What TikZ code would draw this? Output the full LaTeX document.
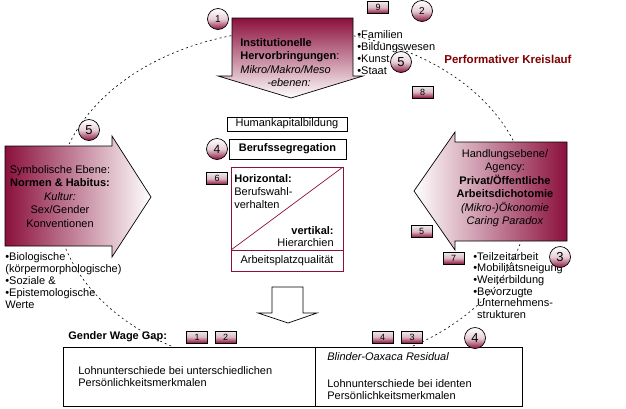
\documentclass[tikz,border=0pt]{standalone}
\usepackage{fontspec}
\setmainfont{Liberation Sans}
\usetikzlibrary{positioning}
\definecolor{wine}{RGB}{139,16,60}
\definecolor{kreisrot}{RGB}{128,0,0}

\begin{document}
\begin{tikzpicture}[x=1pt, y=-1pt, line width=0.7pt,
    font=\fontsize{11}{12}\selectfont,
    nummer/.style={circle, draw, minimum size=21, inner sep=0, top color=white, bottom color=wine, middle color=wine!20!white, font=\fontsize{13}{13}\selectfont},
    marke/.style={rectangle, draw, minimum width=21, minimum height=12, inner sep=0, top color=gray!15, bottom color=wine, middle color=wine!30!white, font=\fontsize{9}{9}\selectfont},
    liste/.style={anchor=north west, inner sep=0, align=left},
    pfeiltext/.style={inner sep=0, align=center, font=\fontsize{11}{13.5}\selectfont},
    kasten/.style={draw, inner sep=0, outer sep=0}]
  \useasboundingbox (0,0) rectangle (626,408);

  % Kreislauf
  \draw[line width=0.6pt, dash pattern=on 2pt off 3pt] (292,200) ellipse [x radius=236, y radius=170];

  % Ebenen
  \draw[top color=wine, bottom color=white] (232,18) -- (353,18) -- (353,76) -- (363,76)
        -- (291,98) -- (218,76) -- (232,76) -- cycle;
  \draw[left color=wine, right color=white] (5,146) -- (112,146) -- (112,136) -- (151,197)
        -- (112,257) -- (112,246) -- (5,246) -- cycle;
  \draw[left color=white, right color=wine] (567,142) -- (455,142) -- (455,132) -- (414,191)
        -- (455,250) -- (455,241) -- (567,241) -- cycle;
  \draw[fill=white] (272,287) -- (303,287) -- (303,313) -- (317,313) -- (288,323)
        -- (258,313) -- (272,313) -- cycle;

  \node[liste, font=\fontsize{11}{13.5}\selectfont] (inst) at (240,38)
       {\textbf{Institutionelle}\\\textbf{Hervorbringungen}:\\\textit{Mikro/Makro/Meso}\\\hspace*{27pt}\textit{-ebenen:}};
  \node[pfeiltext, anchor=north] (symb) at (60,165)
       {Symbolische Ebene:\\\textbf{Normen \& Habitus:}\\\textit{Kultur:}\\Sex/Gender\\Konventionen};
  \node[pfeiltext, anchor=north] (hand) at (505,149)
       {Handlungsebene/\\Agency:\\\textbf{Privat/Öffentliche}\\\textbf{Arbeitsdichotomie}\\\textit{(Mikro-)Ökonomie}\\\textit{Caring Paradox}};

  \node[liste] (inst-l) at (357,30) {•Familien\\•Bildungswesen\\•Kunst\\•Staat};
  \node[liste] (symb-l) at (5,252) {•Biologische\\(körpermorphologische)\\•Soziale \&\\•Epistemologische\\Werte};
  \node[liste, font=\fontsize{11}{11.6}\selectfont] (hand-l) at (473,252)
       {•Teilzeitarbeit\\•Mobilitätsneigung\\•Weiterbildung\\•Bevorzugte\\\phantom{•}Unternehmens-\\\phantom{•}strukturen};
  \node[anchor=west, inner sep=0, text=kreisrot, font=\fontsize{11.5}{12}\bfseries] (kreis) at (444,59) {Performativer Kreislauf};

  % Mitte
  \node[kasten, minimum width=120, minimum height=14] (hum) at (287,124) {Humankapitalbildung};
  \node[kasten, minimum width=117, minimum height=20, line width=1pt, font=\fontsize{11}{12}\bfseries] (seg) at (287.5,149) {Berufssegregation};
  \node[kasten, draw=wine, minimum width=112, minimum height=83] (hv) at (287,208.5) {};
  \draw[wine] (hv.south west) -- (hv.north east);
  \node[kasten, draw=wine, minimum width=112, minimum height=21, below=0pt of hv] (qual) {Arbeitsplatzqualität};
  \node[liste, font=\fontsize{11}{13}\selectfont] (hor) at (234,174) {\textbf{Horizontal:}\\Berufswahl-\\verhalten};
  \node[liste, anchor=north east, align=right, font=\fontsize{11}{12.5}\selectfont] (ver) at (334,226) {\textbf{vertikal:}\\Hierarchien};

  % Gender Wage Gap
  \node[anchor=west, inner sep=0, font=\fontsize{11}{12}\bfseries] (gap) at (68,337) {Gender Wage Gap:};
  \node[kasten, fill=white, minimum width=252, minimum height=59] (erkl) at (189,376.5) {};
  \node[kasten, fill=white, minimum width=207, minimum height=59] (resid) at (418.5,376.5) {};
  \node[liste] (erkl-t) at (78,366) {Lohnunterschiede bei unterschiedlichen\\Persönlichkeitsmerkmalen};
  \node[anchor=west, inner sep=0] (bo) at (327,357) {\textit{Blinder-Oaxaca Residual}};
  \node[liste] (resid-t) at (327,379) {Lohnunterschiede bei identen\\Persönlichkeitsmerkmalen};

  % Nummern
  \node[nummer, font=\fontsize{10}{10}\selectfont] (n1) at (218,19) {1};
  \node[nummer, font=\fontsize{10}{10}\selectfont] (n2) at (422,11) {2};
  \node[nummer] (n5o) at (401,62) {5};
  \node[nummer] (n5l) at (89,130) {5};
  \node[nummer, font=\fontsize{12}{12}\selectfont] (n4m) at (217,149) {4};
  \node[nummer] (n3) at (560,257) {3};
  \node[nummer] (n4u) at (475,338) {4};

  \node[marke] (m9) at (378,7.5) {9};
  \node[marke] (m8) at (422.5,92) {8};
  \node[marke] (m6) at (217,178.5) {6};
  \node[marke] (m5) at (421.5,231.5) {5};
  \node[marke] (m7) at (453.5,258) {7};
  \node[marke] (m1) at (197,337) {1};
  \node[marke, right=7pt of m1] (m2) {2};
  \node[marke] (m4) at (382.5,337) {4};
  \node[marke, right=8pt of m4] (m3) {3};
\end{tikzpicture}
\end{document}
